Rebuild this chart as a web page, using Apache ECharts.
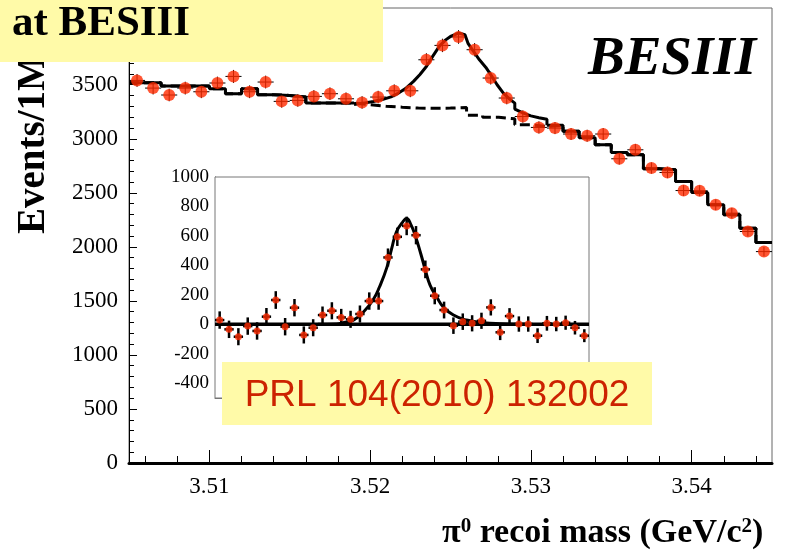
<!DOCTYPE html>
<html>
<head>
<meta charset="utf-8">
<script src="https://cdn.jsdelivr.net/npm/echarts@6/dist/echarts.min.js"></script>
<style>
    html, body {margin: 0; padding: 0; background: #fff;}
    #chart {width: 785px; height: 553px;}
</style>
</head>
<body>
<div id="chart"></div>
<script>
// pi0 recoil mass, 1 MeV bins (bin centres, GeV)
var massBins = [3.5055, 3.5065, 3.5075, 3.5085, 3.5095, 3.5105, 3.5115, 3.5125, 3.5135, 3.5145,
    3.5155, 3.5165, 3.5175, 3.5185, 3.5195, 3.5205, 3.5215, 3.5225, 3.5235, 3.5245,
    3.5255, 3.5265, 3.5275, 3.5285, 3.5295, 3.5305, 3.5315, 3.5325, 3.5335, 3.5345,
    3.5355, 3.5365, 3.5375, 3.5385, 3.5395, 3.5405, 3.5415, 3.5425, 3.5435, 3.5445];
var events = [3540, 3469, 3405, 3469, 3435, 3516, 3577, 3435, 3525, 3346,
    3355, 3392, 3417, 3370, 3336, 3386, 3444, 3444, 3731, 3864,
    3942, 3824, 3562, 3377, 3206, 3105, 3099, 3044, 3028, 3044,
    2815, 2898, 2729, 2688, 2521, 2519, 2389, 2312, 2142, 1956];
var eventErr = [59, 59, 58, 59, 59, 59, 60, 59, 59, 58,
    58, 58, 58, 58, 58, 58, 59, 59, 61, 62,
    63, 62, 60, 58, 57, 56, 56, 55, 55, 55,
    53, 54, 52, 52, 50, 50, 49, 48, 46, 44];
// background histogram (dashed), one level per bin
var bkgLevels = [3519, 3519, 3488, 3488, 3488, 3463, 3417, 3463, 3407, 3401,
    3386, 3330, 3330, 3330, 3315, 3301, 3292, 3284, 3282, 3284,
    3289, 3218, 3199, 3185, 3130, 3114, 3125, 3069, 3009, 2944,
    2873, 2852, 2722, 2713, 2605, 2503, 2389, 2296, 2173, 2040];
// total fit around the peak (solid)
var peakX = [3.5190, 3.5196, 3.5202, 3.5208, 3.5213, 3.5217, 3.5222, 3.5227, 3.5231, 3.5235,
    3.5239, 3.5243, 3.5247, 3.5250, 3.5255, 3.5259, 3.5260, 3.5261, 3.5264, 3.5268,
    3.5272, 3.5275, 3.5279, 3.5283, 3.5287, 3.5290, 3.5290, 3.5295, 3.5300, 3.5305,
    3.5310, 3.5310];
var peakY = [3318, 3330, 3345, 3365, 3388, 3417, 3465, 3531, 3595, 3669,
    3765, 3855, 3915, 3947, 3978, 3963, 3950, 3880, 3815, 3731,
    3660, 3593, 3500, 3420, 3365, 3330, 3275, 3240, 3212, 3195,
    3180, 3125];

// inset: background subtracted
var insetEvents = [29, -34, -84, -12, -45, 52, 165, -16, 113, -72,
    -23, 63, 92, 47, 34, 70, 158, 158, 454, 594,
    668, 605, 373, 194, 97, -9, 18, 7, 24, 115,
    -54, 56, 2, 2, -77, 7, 2, 11, -23, -77];
var signalX = [3.5160, 3.5180, 3.5187, 3.5198, 3.5209, 3.5219, 3.5226, 3.5234, 3.5239, 3.5244,
    3.5250, 3.5255, 3.5259, 3.5264, 3.5270, 3.5275, 3.5280, 3.5287, 3.5294, 3.5305,
    3.5319, 3.5337, 3.5355, 3.5387];
var signalY = [0, 3, 11, 29, 85, 165, 255, 390, 515, 627,
    688, 718, 684, 605, 481, 368, 266, 187, 119, 63,
    29, 11, 4, 0];

var xLabelTicks = [3.51, 3.52, 3.53, 3.54];
var xMinorTicks = [3.506, 3.508, 3.512, 3.514, 3.516, 3.518, 3.522, 3.524,
    3.526, 3.528, 3.532, 3.534, 3.536, 3.538, 3.542, 3.544];
var insetLabelTicks = [-400, -200, 0, 200, 400, 600, 800, 1000];

var serif = '"Liberation Serif", "Times New Roman", serif';
var yellow = '#fffaa8';
var binHalf = 0.0005;

var chart = echarts.init(document.getElementById('chart'));

// histogram outline from bin i0 to i1-1
function stepData(levels, i0, i1) {
    var d = [];
    for (var i = i0; i < i1; i++) d.push([massBins[i] - binHalf, levels[i]]);
    d.push([massBins[i1 - 1] + binHalf, levels[i1 - 1]]);
    return d;
}

function zip(xs, ys) {
    return xs.map(function (x, i) { return [x, ys[i]]; });
}

function plain(v) {
    return String(v);
}

function errorBars(width) {
    return function (params, api) {
        var m = api.value(0), v = api.value(1), e = api.value(2);
        var l = api.coord([m - binHalf, v]), r = api.coord([m + binHalf, v]);
        var t = api.coord([m, v + e]), b = api.coord([m, v - e]);
        var st = {stroke: '#000', lineWidth: width};
        return {
            type: 'group',
            children: [
                {type: 'line', shape: {x1: l[0], y1: l[1], x2: r[0], y2: r[1]}, style: st},
                {type: 'line', shape: {x1: t[0], y1: t[1], x2: b[0], y2: b[1]}, style: st}
            ]
        };
    };
}

var mainPoints = massBins.map(function (m, i) { return [m, events[i], eventErr[i]]; });
var insetPoints = massBins.map(function (m, i) { return [m, insetEvents[i], eventErr[i]]; });

var solid = {color: '#000', width: 3};

chart.setOption({
    animation: false,
    grid: [
        {left: 129, top: 8, width: 643, height: 455, show: true, borderColor: '#666', borderWidth: 1},
        {left: 215, top: 177, width: 374, height: 221, show: true, borderColor: '#777', borderWidth: 1,
            backgroundColor: '#fff', z: 3}
    ],
    xAxis: [
        {
            gridIndex: 0, type: 'value', min: 3.505, max: 3.545, position: 'bottom',
            axisLine: {onZero: false, lineStyle: {color: '#000', width: 3}},
            axisTick: {inside: true, length: 13, customValues: xLabelTicks, lineStyle: {color: '#000'}},
            axisLabel: {customValues: xLabelTicks, formatter: plain, fontFamily: serif, fontSize: 23,
                color: '#000', margin: 12},
            splitLine: {show: false}
        },
        {
            gridIndex: 0, type: 'value', min: 3.505, max: 3.545, position: 'bottom',
            axisLine: {show: false, onZero: false},
            axisTick: {inside: true, length: 7, customValues: xMinorTicks, lineStyle: {color: '#000'}},
            axisLabel: {show: false},
            splitLine: {show: false}
        },
        {
            gridIndex: 1, type: 'value', min: 3.505, max: 3.545, position: 'bottom',
            axisLine: {onZero: false, lineStyle: {color: '#777'}},
            axisTick: {show: false}, axisLabel: {show: false}, splitLine: {show: false}
        }
    ],
    yAxis: [
        {
            gridIndex: 0, type: 'value', min: 0, max: 4210, interval: 500,
            axisLine: {show: true, onZero: false, lineStyle: {color: '#000'}},
            axisTick: {inside: true, length: 8, lineStyle: {color: '#000'}},
            minorTick: {show: true, splitNumber: 5, length: 5, lineStyle: {color: '#000'}},
            axisLabel: {formatter: plain, fontFamily: serif, fontSize: 23, color: '#000', margin: 11,
                showMaxLabel: false},
            splitLine: {show: false}
        },
        {
            gridIndex: 1, type: 'value', min: -500, max: 1000,
            axisLine: {show: true, onZero: false, lineStyle: {color: '#333'}},
            axisTick: {inside: true, length: 7, customValues: insetLabelTicks, lineStyle: {color: '#333'}},
            axisLabel: {customValues: insetLabelTicks, formatter: plain, fontFamily: serif, fontSize: 19,
                color: '#000', margin: 6},
            splitLine: {show: false}
        },
        {
            gridIndex: 1, type: 'value', min: -500, max: 1000, interval: 50,
            axisLine: {show: false, onZero: false},
            axisTick: {inside: true, length: 3.5, lineStyle: {color: '#333'}},
            axisLabel: {show: false},
            splitLine: {show: false}
        }
    ],
    series: [
        /*---- main plot ----*/
        {
            type: 'line', xAxisIndex: 0, yAxisIndex: 0, step: 'end', symbol: 'none',
            data: stepData(bkgLevels, 0, 40),
            lineStyle: {color: '#000', width: 3, type: [10, 5]}, z: 2
        },
        {type: 'line', xAxisIndex: 0, yAxisIndex: 0, step: 'end', symbol: 'none',
            data: stepData(bkgLevels, 0, 14), lineStyle: solid, z: 3},
        {type: 'line', xAxisIndex: 0, yAxisIndex: 0, symbol: 'none',
            data: zip(peakX, peakY), lineStyle: solid, z: 3},
        {type: 'line', xAxisIndex: 0, yAxisIndex: 0, step: 'end', symbol: 'none',
            data: stepData(bkgLevels, 26, 40), lineStyle: solid, z: 3},
        {
            type: 'custom', xAxisIndex: 0, yAxisIndex: 0, renderItem: errorBars(1),
            data: mainPoints, encode: {x: 0, y: 1}, z: 4
        },
        {
            type: 'scatter', xAxisIndex: 0, yAxisIndex: 0, symbolSize: 12,
            data: mainPoints, itemStyle: {color: '#ff2a00'}, z: 5
        },

        /*---- inset ----*/
        {type: 'line', xAxisIndex: 2, yAxisIndex: 1, symbol: 'none',
            data: [[3.505, 0], [3.545, 0]], lineStyle: {color: '#000', width: 3.5}, z: 6},
        {type: 'line', xAxisIndex: 2, yAxisIndex: 1, symbol: 'none', smooth: true,
            data: zip(signalX, signalY), lineStyle: solid, z: 6},
        {
            type: 'custom', xAxisIndex: 2, yAxisIndex: 1, renderItem: errorBars(2.5),
            data: insetPoints, encode: {x: 0, y: 1}, z: 7
        },
        {
            type: 'scatter', xAxisIndex: 2, yAxisIndex: 1, symbolSize: 7,
            data: insetPoints, itemStyle: {color: '#ff2a00'}, z: 8
        }
    ],
    graphic: [
        {
            type: 'text', x: 34, y: 234, rotation: Math.PI / 2, z: 50,
            style: {text: 'Events/1MeV', font: 'bold 39px ' + serif, fill: '#000',
                align: 'left', verticalAlign: 'middle', textAlign: 'left', textVerticalAlign: 'middle'}
        },
        {type: 'rect', shape: {x: 0, y: 0, width: 383, height: 62}, style: {fill: yellow}, z: 100},
        {
            type: 'text', x: 12, y: 24, z: 101,
            style: {text: 'at BESIII', font: 'bold 43px ' + serif, fill: '#000',
                align: 'left', verticalAlign: 'middle', textAlign: 'left', textVerticalAlign: 'middle'}
        },
        {
            type: 'text', x: 588, y: 60, z: 101,
            style: {text: 'BESIII', font: 'italic bold 55px ' + serif, fill: '#000',
                align: 'left', verticalAlign: 'middle', textAlign: 'left', textVerticalAlign: 'middle'}
        },
        {type: 'rect', shape: {x: 222, y: 362, width: 430, height: 63}, style: {fill: yellow}, z: 100},
        {
            type: 'text', x: 437, y: 396, z: 101,
            style: {text: 'PRL 104(2010) 132002', font: '37px "Liberation Sans", Arial, sans-serif', fill: '#cc2200',
                align: 'center', verticalAlign: 'middle', textAlign: 'center', textVerticalAlign: 'middle'}
        },
        {
            type: 'text', x: 442, y: 533, z: 101,
            style: {
                text: 'π{s|0} recoi mass (GeV/c{s|2})',
                font: 'bold 34px ' + serif, fill: '#000',
                align: 'left', verticalAlign: 'middle', textAlign: 'left', textVerticalAlign: 'middle',
                rich: {s: {font: 'bold 21px ' + serif, fill: '#000', verticalAlign: 'top'}}
            }
        }
    ]
});
</script>
</body>
</html>
